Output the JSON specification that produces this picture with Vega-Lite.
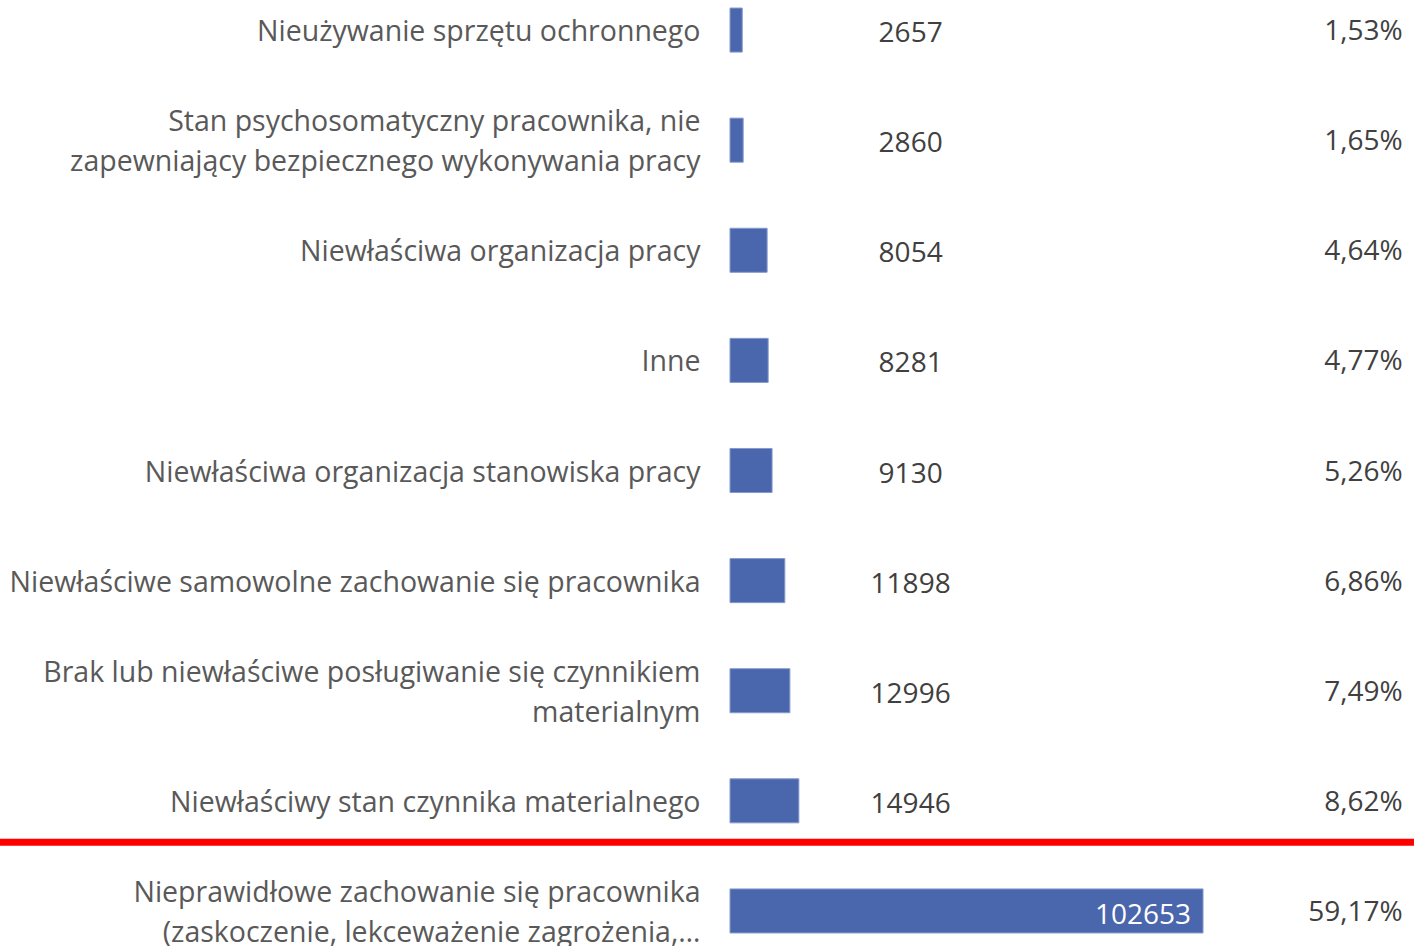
{
  "$schema": "https://vega.github.io/schema/vega-lite/v6.json",
  "autosize": {"type": "none"},
  "padding": {"left": 730, "top": 0, "right": 0, "bottom": 0},
  "width": 684,
  "height": 946,
  "background": "white",
  "config": {"view": {"stroke": null}},
  "data": {"values": [
    {"cause": "Nieużywanie sprzętu ochronnego", "count": 2657, "pct": "1,53%"},
    {"cause": "Stan psychosomatyczny pracownika, nie\nzapewniający bezpiecznego wykonywania pracy", "count": 2860, "pct": "1,65%"},
    {"cause": "Niewłaściwa organizacja pracy", "count": 8054, "pct": "4,64%"},
    {"cause": "Inne", "count": 8281, "pct": "4,77%"},
    {"cause": "Niewłaściwa organizacja stanowiska pracy", "count": 9130, "pct": "5,26%"},
    {"cause": "Niewłaściwe samowolne zachowanie się pracownika", "count": 11898, "pct": "6,86%"},
    {"cause": "Brak lub niewłaściwe posługiwanie się czynnikiem\nmaterialnym", "count": 12996, "pct": "7,49%"},
    {"cause": "Niewłaściwy stan czynnika materialnego", "count": 14946, "pct": "8,62%"},
    {"cause": "Nieprawidłowe zachowanie się pracownika\n(zaskoczenie, lekceważenie zagrożenia,…", "count": 102653, "pct": "59,17%"}
  ]},
  "encoding": {
    "y": {
      "field": "cause", "type": "nominal", "sort": null,
      "scale": {"range": [-25, 966], "paddingInner": 0.6, "paddingOuter": 0.3},
      "axis": {
        "title": null, "domain": false, "ticks": false, "labelPadding": 30,
        "labelFont": "Open Sans", "labelFontSize": 28.5, "labelColor": "#595959",
        "labelLineHeight": 40, "labelLimit": 0, "labelBaseline": "middle",
        "labelOffset": {"condition": {"test": "indexof(datum.label, '\\n') >= 0", "value": -18}, "value": 2},
        "labelExpr": "split(datum.label, '\\n')"
      }
    }
  },
  "layer": [
    {
      "mark": {"type": "bar", "color": "#4a66ac", "stroke": "#8599cc", "strokeWidth": 1},
      "encoding": {
        "x": {"field": "count", "type": "quantitative", "scale": {"domain": [0, 148440], "nice": false, "zero": true}, "axis": null}
      }
    },
    {
      "transform": [{"filter": "datum.count < 50000"}],
      "mark": {"type": "text", "font": "Open Sans", "fontSize": 28, "color": "#404040", "align": "center", "baseline": "middle", "dy": 4},
      "encoding": {
        "x": {"datum": 39200, "type": "quantitative"},
        "text": {"field": "count", "type": "quantitative", "format": "d"}
      }
    },
    {
      "transform": [{"filter": "datum.count >= 50000"}],
      "mark": {"type": "text", "font": "Open Sans", "fontSize": 28, "color": "white", "align": "right", "baseline": "middle", "dx": -12, "dy": 5},
      "encoding": {
        "x": {"field": "count", "type": "quantitative"},
        "text": {"field": "count", "type": "quantitative", "format": "d"}
      }
    },
    {
      "mark": {"type": "text", "font": "Open Sans", "fontSize": 28, "color": "#404040", "align": "right", "baseline": "middle", "dy": 2},
      "encoding": {
        "x": {"datum": 146000, "type": "quantitative"},
        "text": {"field": "pct", "type": "nominal"}
      }
    },
    {
      "data": {"values": [{"cause": "Niewłaściwy stan czynnika materialnego", "from": -158500, "to": 148440}]},
      "mark": {"type": "rule", "color": "#ff0000", "strokeWidth": 7},
      "encoding": {
        "x": {"field": "from", "type": "quantitative"},
        "x2": {"field": "to"},
        "y": {"field": "cause", "type": "nominal", "bandPosition": 1.44}
      }
    }
  ]
}
